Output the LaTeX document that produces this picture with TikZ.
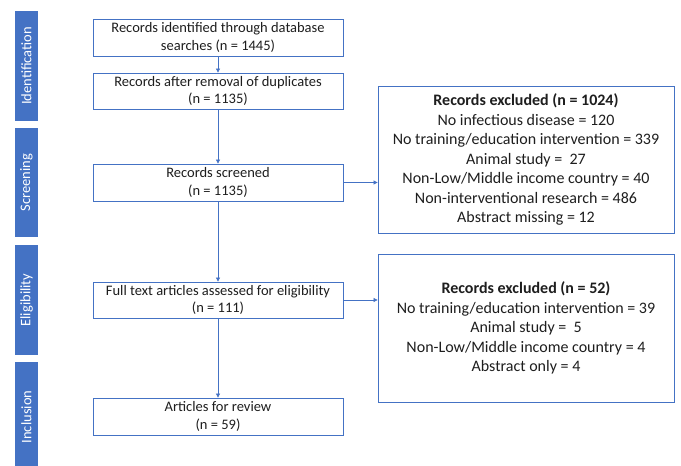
\documentclass[tikz,border=0pt]{standalone}
\usepackage{fontspec}
\setmainfont{Carlito}
\usetikzlibrary{arrows.meta}
\definecolor{prismablue}{RGB}{68,114,196}
\definecolor{txtgray}{RGB}{30,30,30}

\begin{document}
\begin{tikzpicture}[x=1pt,y=1pt,yscale=-1,xscale=1,
  stagebox/.style={draw=prismablue, line width=0.8pt, fill=white, text=txtgray,
    minimum width=250pt, minimum height=37pt, align=center, inner sep=0pt,
    font=\fontsize{14.5}{17.5}\selectfont},
  exclbox/.style={draw=prismablue, line width=0.8pt, fill=white, text=txtgray,
    minimum width=296pt, minimum height=147pt, align=center, inner sep=0pt,
    font=\fontsize{16}{19.5}\selectfont},
  phasebar/.style={fill=prismablue, draw=none, minimum width=23pt, text=white,
    inner sep=0pt, font=\fontsize{12}{14}\selectfont},
  phaselbl/.style={rotate=90, text=white, inner sep=0pt, font=\fontsize{14.5}{16}\selectfont},
  flow/.style={draw=prismablue, line width=0.7pt, -{Triangle[length=4pt,width=4pt]}}]
\useasboundingbox (0,0) rectangle (681,466);

%Phase bars
\node [phasebar, minimum height=110pt] (identbar) at (26.5,66) {};
\node [phaselbl] (identlbl) at (identbar.center) {Identification};
\node [phasebar, minimum height=109pt] (screenbar) at (26.5,182.5) {};
\node [phaselbl] (screenlbl) at (screenbar.center) {Screening};
\node [phasebar, minimum height=110pt] (eligbar) at (26.5,300) {};
\node [phaselbl] (eliglbl) at (eligbar.center) {Eligibility};
\node [phasebar, minimum height=110pt] (inclbar) at (26.5,417) {};
\node [phaselbl] (incllbl) at (inclbar.center) {Inclusion};

%Flow boxes
\node [stagebox] (identified) at (218,37.5) {Records identified through database\\searches (n = 1445)};
\node [stagebox, minimum height=36pt] (dedup) at (218,91) {Records after removal of duplicates\\(n = 1135)};
\node [stagebox] (screened) at (218,182.5) {Records screened\\(n = 1135)};
\node [stagebox, minimum height=36pt] (fulltext) at (218,300) {Full text articles assessed for eligibility\\(n = 111)};
\node [stagebox] (review) at (218,416.5) {Articles for review\\(n = 59)};

%Exclusion boxes
\node [exclbox] (exclscreen) at (526,159.5) {\textbf{Records excluded (n = 1024)}\\No infectious disease = 120\\No training/education intervention = 339\\Animal study =\ \ 27\\Non-Low/Middle income country = 40\\Non-interventional research = 486\\Abstract missing = 12};
\node [exclbox, minimum height=148pt] (exclfull) at (526,328) {\textbf{Records excluded (n = 52)}\\No training/education intervention = 39\\Animal study =\ \ 5\\Non-Low/Middle income country = 4\\Abstract only = 4};

%Connectors
\draw [flow] (identified) -- (dedup);
\draw [flow] (dedup) -- (screened);
\draw [flow] (screened) -- (fulltext);
\draw [flow] (fulltext) -- (review);
\draw [flow] (screened.east) -- (screened.east -| exclscreen.west);
\draw [flow] (fulltext.east) -- (fulltext.east -| exclfull.west);

\end{tikzpicture}
\end{document}
